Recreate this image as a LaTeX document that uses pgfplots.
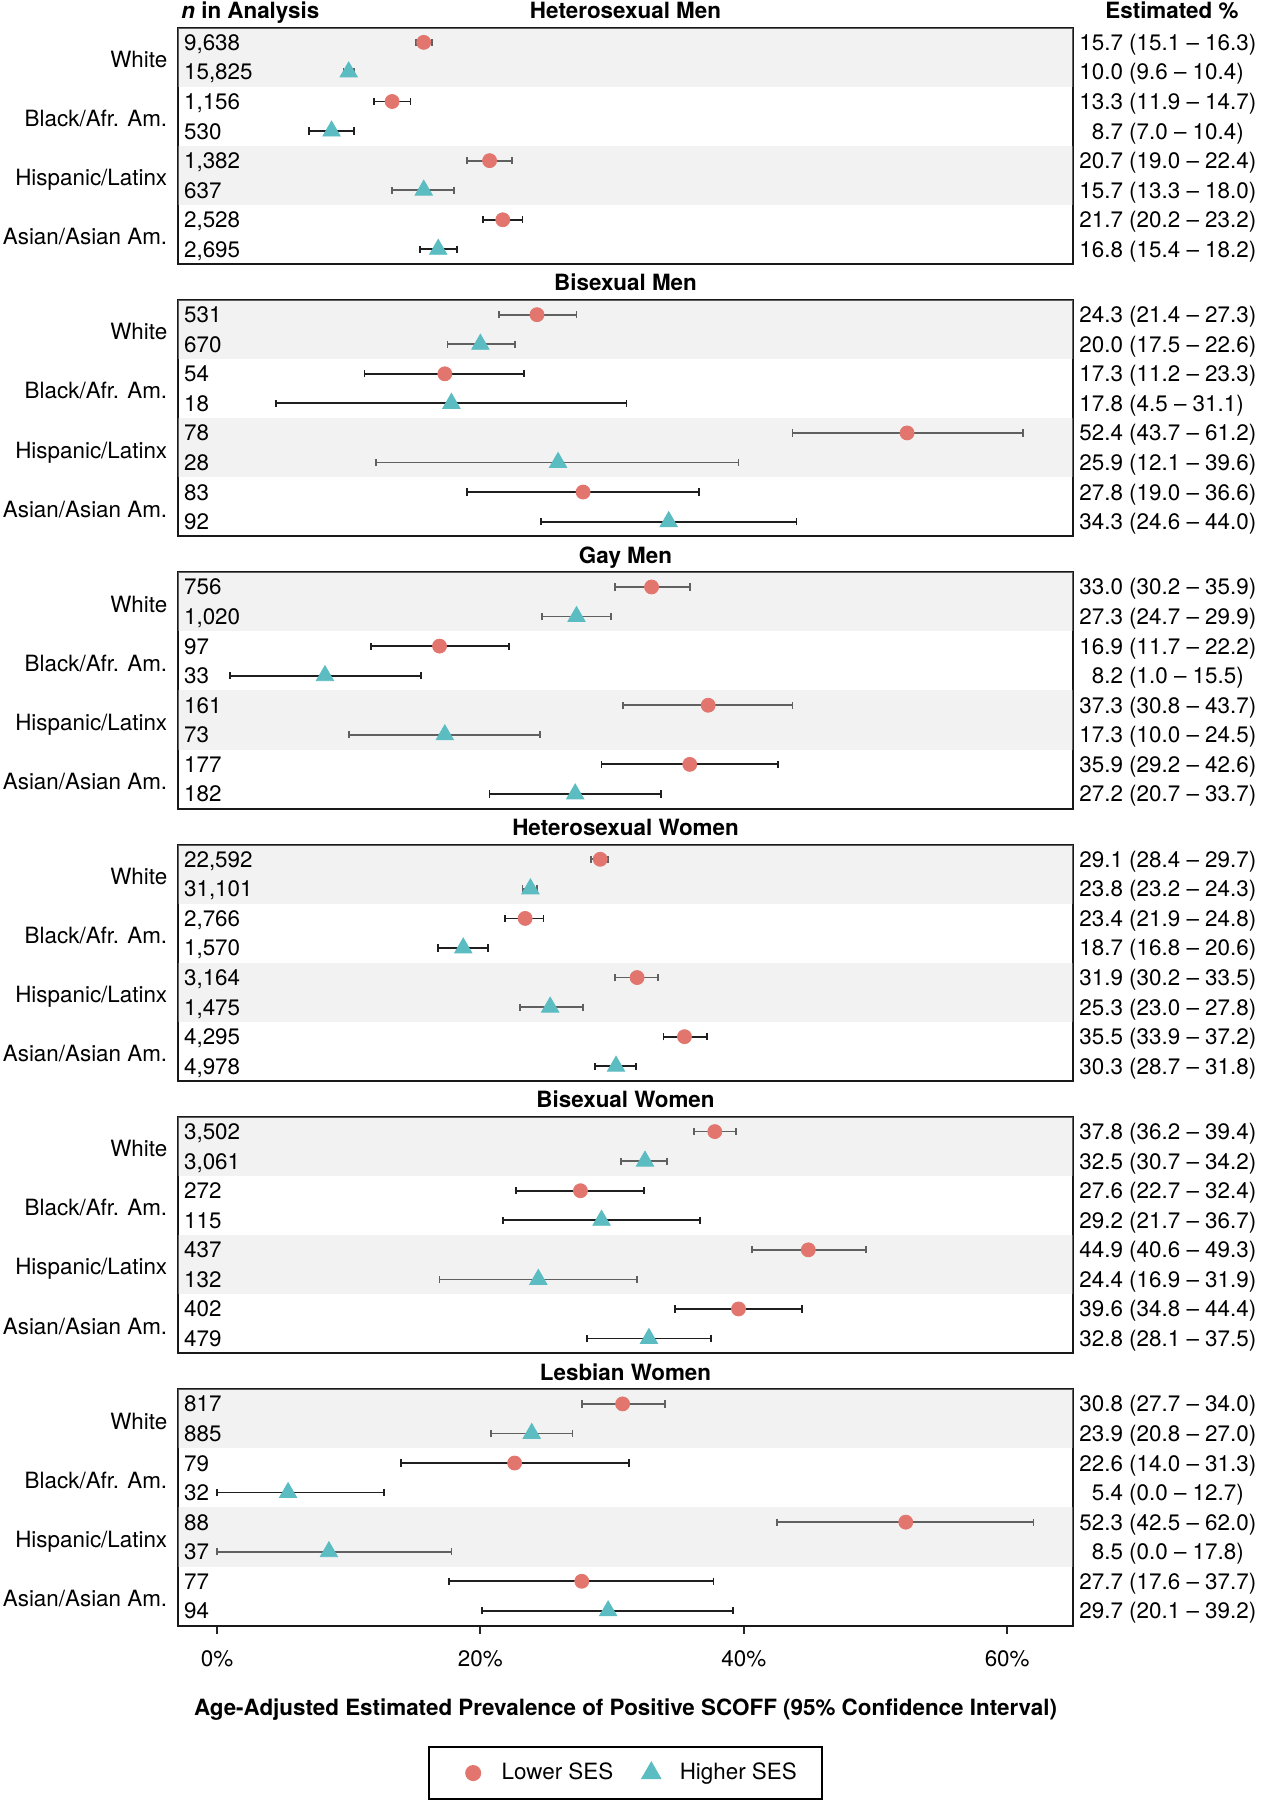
\documentclass[border=0pt]{standalone}
\usepackage{pgfplots}
\usepackage{pgfplotstable}
\pgfplotsset{compat=1.18}
\usepackage{fontspec}
\setmainfont{TeX Gyre Heros}
\newcommand\f{\fontsize{11.2}{13.4}\selectfont}
\definecolor{lowred}{RGB}{226,118,110}
\definecolor{highteal}{RGB}{91,188,193}
\definecolor{bandc}{RGB}{218,218,218}
\def\xmn{-2.96}
\def\xmx{65.0}
\newlength\estw
\pgfplotstableread[col sep=semicolon]{
row;est;lo;hi;n
1;15.7;15.1;16.3;9,638
2;10.0;9.6;10.4;15,825
3;13.3;11.9;14.7;1,156
4;8.7;7.0;10.4;530
5;20.7;19.0;22.4;1,382
6;15.7;13.3;18.0;637
7;21.7;20.2;23.2;2,528
8;16.8;15.4;18.2;2,695
}\tA
\pgfplotstableread[col sep=semicolon]{
row;est;lo;hi;n
1;24.3;21.4;27.3;531
2;20.0;17.5;22.6;670
3;17.3;11.2;23.3;54
4;17.8;4.5;31.1;18
5;52.4;43.7;61.2;78
6;25.9;12.1;39.6;28
7;27.8;19.0;36.6;83
8;34.3;24.6;44.0;92
}\tB
\pgfplotstableread[col sep=semicolon]{
row;est;lo;hi;n
1;33.0;30.2;35.9;756
2;27.3;24.7;29.9;1,020
3;16.9;11.7;22.2;97
4;8.2;1.0;15.5;33
5;37.3;30.8;43.7;161
6;17.3;10.0;24.5;73
7;35.9;29.2;42.6;177
8;27.2;20.7;33.7;182
}\tC
\pgfplotstableread[col sep=semicolon]{
row;est;lo;hi;n
1;29.1;28.4;29.7;22,592
2;23.8;23.2;24.3;31,101
3;23.4;21.9;24.8;2,766
4;18.7;16.8;20.6;1,570
5;31.9;30.2;33.5;3,164
6;25.3;23.0;27.8;1,475
7;35.5;33.9;37.2;4,295
8;30.3;28.7;31.8;4,978
}\tD
\pgfplotstableread[col sep=semicolon]{
row;est;lo;hi;n
1;37.8;36.2;39.4;3,502
2;32.5;30.7;34.2;3,061
3;27.6;22.7;32.4;272
4;29.2;21.7;36.7;115
5;44.9;40.6;49.3;437
6;24.4;16.9;31.9;132
7;39.6;34.8;44.4;402
8;32.8;28.1;37.5;479
}\tE
\pgfplotstableread[col sep=semicolon]{
row;est;lo;hi;n
1;30.8;27.7;34.0;817
2;23.9;20.8;27.0;885
3;22.6;14.0;31.3;79
4;5.4;0.0;12.7;32
5;52.3;42.5;62.0;88
6;8.5;0.0;17.8;37
7;27.7;17.6;37.7;77
8;29.7;20.1;39.2;94
}\tF
\newcommand\pn[1]{\pgfmathprintnumber[fixed,fixed zerofill,precision=1,assume math mode=true]{#1}}
\pgfplotsset{
  base/.style={scale only axis, width=447.5pt, height=118.25pt, anchor=north west,
    xmin=\xmn, xmax=\xmx, ymin=0.5, ymax=8.5, y dir=reverse, clip=false,
    axis line style={line width=1pt, black!90},
    xtick=\empty, ytick={1.58,3.58,5.58,7.58},
    yticklabels={White,Black/Afr. Am.,Hispanic/Latinx,Asian/Asian Am.},
    major tick length=4pt, ytick style={draw=none},
    yticklabel style={font=\f, anchor=base east, inner sep=0pt, xshift=-5.2pt, yshift=-4pt},
    title style={font=\f\bfseries, at={(axis description cs:0.5,1)}, anchor=base, yshift=-1.5pt, inner sep=0pt}},
  ebar/.style={only marks, forget plot,
    error bars/x dir=both, error bars/x explicit,
    error bars/error bar style={line width=0.9pt, black!88},
    error bars/error mark options={rotate=90, mark size=1.8pt, line width=0.9pt, black!88}},
  lowm/.style={color=lowred, mark=*, mark size=3.5pt, mark options={fill=lowred, draw=lowred}},
  highm/.style={color=highteal, mark=triangle*, mark size=5pt, mark options={fill=highteal, draw=highteal}},
  band/.style={draw=none, fill=bandc, fill opacity=0.35, forget plot},
  nlab/.style={draw=none, mark=none, forget plot, point meta=explicit symbolic,
    nodes near coords={\pgfplotspointmeta},
    nodes near coords style={font=\f, anchor=base west, inner sep=0pt, xshift=2.85pt, yshift=-4pt, text=black}},
  rlab/.style={draw=none, mark=none, forget plot,
    visualization depends on={\thisrow{est}\as\estv},
    visualization depends on={\thisrow{lo}\as\lov},
    visualization depends on={\thisrow{hi}\as\hiv},
    nodes near coords={\makebox[\estw][r]{\pn{\estv}} (\pn{\lov}\ – \pn{\hiv})},
    nodes near coords style={font=\f, anchor=base west, inner sep=0pt, xshift=3pt, yshift=-4pt, text=black}},
  myleg/.style={legend image code/.code={\path[draw=none, fill=none] (-11.5pt,0pt) -- (12.25pt,0pt); \draw[##1] plot coordinates {(0pt,0pt)};}},
}
\newcommand\panel[4]{%
\begin{axis}[base, at={(89pt,-#1pt)}, title={#2}, #4]
  \addplot[ebar, lowm] table[x=est, y=row, x error plus expr=\thisrow{hi}-\thisrow{est}, x error minus expr=\thisrow{est}-\thisrow{lo}, restrict expr to domain={mod(\thisrow{row},2)}{0.5:1.5}] {#3};
  \addplot[ebar, highm] table[x=est, y=row, x error plus expr=\thisrow{hi}-\thisrow{est}, x error minus expr=\thisrow{est}-\thisrow{lo}, restrict expr to domain={mod(\thisrow{row},2)}{-0.5:0.5}] {#3};
  \addplot[band] coordinates {(\xmn,0.5) (\xmx,0.5) (\xmx,2.5) (\xmn,2.5)} -- cycle;
  \addplot[band] coordinates {(\xmn,4.5) (\xmx,4.5) (\xmx,6.5) (\xmn,6.5)} -- cycle;
  \addplot[nlab] table[x expr=\xmn, y=row, meta=n] {#3};
  \addplot[rlab] table[x expr=\xmx, y=row] {#3};
\end{axis}}
\begin{document}
\f\settowidth\estw{00.0}%
\begin{tikzpicture}[font=\f]
\path[use as bounding box] (0,0) rectangle (632pt,-900pt);
\node[anchor=base west, inner sep=0pt, font=\f\bfseries] at (90.5pt,-9.3pt) {\textit{n} in Analysis};
\node[anchor=base west, inner sep=0pt, font=\f\bfseries] at (552.5pt,-9.3pt) {Estimated \%};
\panel{13.8}{Heterosexual Men}{\tA}{}
\panel{149.95}{Bisexual Men}{\tB}{}
\panel{286.1}{Gay Men}{\tC}{}
\panel{422.25}{Heterosexual Women}{\tD}{}
\panel{558.4}{Bisexual Women}{\tE}{}
\begin{axis}[base, at={(89pt,-694.55pt)}, title={Lesbian Women},
  xtick={0,20,40,60}, xticklabels={0\%,20\%,40\%,60\%}, xtick pos=bottom, tick align=outside,
  yticklabel style={xshift=4pt},
  xtick style={line width=1pt, black!85},
  xticklabel style={font=\f, anchor=base, inner sep=0pt, yshift=-16.5pt},
  xlabel={Age-Adjusted Estimated Prevalence of Positive SCOFF (95\% Confidence Interval)},
  xlabel style={font=\f\bfseries, at={(axis description cs:0.5,0)}, anchor=base, yshift=-44.7pt, inner sep=0pt},
  legend style={at={(axis description cs:0.5,0)}, anchor=north, yshift=-60.2pt, draw=black, line width=1pt, font=\f,
    legend columns=2, inner xsep=10.5pt, inner ysep=6pt, /tikz/every even column/.append style={column sep=5.5pt}},
  myleg]
  \addplot[ebar, lowm] table[x=est, y=row, x error plus expr=\thisrow{hi}-\thisrow{est}, x error minus expr=\thisrow{est}-\thisrow{lo}, restrict expr to domain={mod(\thisrow{row},2)}{0.5:1.5}] {\tF};
  \addplot[ebar, highm] table[x=est, y=row, x error plus expr=\thisrow{hi}-\thisrow{est}, x error minus expr=\thisrow{est}-\thisrow{lo}, restrict expr to domain={mod(\thisrow{row},2)}{-0.5:0.5}] {\tF};
  \addplot[band] coordinates {(\xmn,0.5) (\xmx,0.5) (\xmx,2.5) (\xmn,2.5)} -- cycle;
  \addplot[band] coordinates {(\xmn,4.5) (\xmx,4.5) (\xmx,6.5) (\xmn,6.5)} -- cycle;
  \addplot[nlab] table[x expr=\xmn, y=row, meta=n] {\tF};
  \addplot[rlab] table[x expr=\xmx, y=row] {\tF};
  \addlegendimage{only marks, lowm}\addlegendentry{Lower SES}
  \addlegendimage{only marks, highm}\addlegendentry{Higher SES}
\end{axis}
\end{tikzpicture}
\end{document}
